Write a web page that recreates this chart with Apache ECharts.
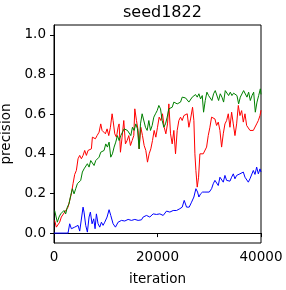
<!DOCTYPE html>
<html>
<head>
<meta charset="utf-8">
<script src="https://cdn.jsdelivr.net/npm/echarts@6/dist/echarts.min.js"></script>
<style>html,body{margin:0;padding:0;background:#fff}#c{width:286px;height:290px}</style>
</head>
<body>
<div id="c"></div>
<script>
var titleText = 'seed1822';
var xName = 'iteration';
var yName = 'precision';
var yTicks = [0, 0.2, 0.4, 0.6, 0.8, 1.0];
var xTicks = [0, 20000, 40000];

var blueX = [0,2710,3032,3355,3677,4000,4323,4645,4968,5290,5613,5806,6129,6452,6774,7032,7355,7677,7935,8194,8516,8839,9161,9484,9806,10258,10645,10968,11419,11871,12387,13032,13677,14323,14968,15613,16258,16903,17226,17871,18516,19161,19806,20452,21097,21742,22387,23032,23677,24323,24774,25161,25613,26129,26581,27032,27419,27742,28000,28323,28710,29161,29484,30000,30452,30774,31097,31419,31742,32065,32387,32710,33032,33355,33677,34000,34323,34645,34968,35290,35613,35935,36258,36581,36903,37226,37548,37871,38194,38516,38839,39161,39484,39806,40000];
var blueY = [0,0,0.047,0.022,0.017,0.030,0.027,0.039,0.010,0.0,0.131,0.106,0.039,0.005,0.081,0.106,0.047,0.072,0.022,0.097,0.047,0.030,0.055,0.039,0.055,0.081,0.118,0.089,0.047,0.030,0.055,0.064,0.061,0.069,0.064,0.069,0.064,0.067,0.081,0.089,0.081,0.097,0.094,0.097,0.089,0.111,0.106,0.114,0.114,0.123,0.131,0.165,0.131,0.131,0.156,0.182,0.224,0.207,0.182,0.198,0.207,0.207,0.212,0.207,0.224,0.249,0.266,0.269,0.240,0.282,0.282,0.257,0.291,0.266,0.257,0.262,0.282,0.299,0.274,0.291,0.282,0.299,0.296,0.308,0.282,0.274,0.257,0.274,0.282,0.316,0.296,0.333,0.299,0.324,0.308];

var redX = [129,452,774,1097,1419,1742,2065,2387,2710,3032,3355,3677,4000,4323,4645,4968,5290,5613,5935,6258,6581,6903,7226,7419,7677,8000,8323,8710,9032,9290,9613,9935,10258,10581,10903,11226,11419,11742,12065,12387,12581,12839,13161,13484,13806,14129,14452,14774,15097,15419,15613,15935,16258,16452,16774,17097,17419,17742,18065,18387,18710,19032,19355,19677,20000,20323,20645,20968,21290,21613,21935,22194,22516,22839,23161,23484,23806,24129,24452,24774,25097,25419,25742,26065,26387,26774,27032,27226,27419,27677,27935,28194,28516,28839,29161,29484,29806,30129,30452,30774,31097,31419,31742,32065,32387,32710,33032,33355,33677,34000,34323,34645,34968,35290,35613,35935,36258,36581,36903,37226,37548,37871,38194,38516,38839,39161,39484,39806,40000];
var redY = [0.064,0.030,0.039,0.055,0.081,0.089,0.106,0.114,0.131,0.165,0.198,0.249,0.296,0.316,0.375,0.392,0.375,0.392,0.417,0.392,0.417,0.408,0.425,0.484,0.492,0.476,0.492,0.509,0.551,0.518,0.526,0.501,0.526,0.492,0.534,0.602,0.568,0.501,0.484,0.534,0.551,0.408,0.484,0.568,0.450,0.467,0.492,0.442,0.467,0.492,0.627,0.568,0.518,0.425,0.534,0.492,0.442,0.417,0.358,0.400,0.425,0.467,0.518,0.484,0.534,0.585,0.568,0.602,0.534,0.501,0.551,0.652,0.501,0.450,0.518,0.400,0.518,0.568,0.585,0.568,0.593,0.585,0.602,0.534,0.576,0.635,0.568,0.400,0.316,0.232,0.282,0.400,0.392,0.400,0.400,0.434,0.492,0.534,0.585,0.593,0.576,0.543,0.560,0.518,0.434,0.501,0.551,0.568,0.602,0.534,0.610,0.551,0.492,0.551,0.644,0.593,0.618,0.560,0.602,0.543,0.551,0.518,0.509,0.518,0.518,0.551,0.568,0.593,0.620];

var greenX = [129,452,645,968,1290,1613,1935,2258,2581,2903,3226,3548,3871,4194,4516,4839,5161,5484,5806,6129,6452,6774,7097,7419,7742,8065,8387,8710,9032,9355,9677,10000,10323,10645,10968,11290,11613,11935,12258,12581,12903,13226,13548,13871,14194,14516,14839,15161,15484,15806,16129,16452,16710,17032,17355,17677,18000,18323,18645,18968,19290,19613,19935,20258,20581,20903,21226,21548,21871,22194,22516,22839,23161,23484,23806,24129,24452,24774,25097,25419,25742,26065,26387,26710,27032,27355,27677,28000,28323,28645,28903,29226,29548,29871,30194,30516,30839,31161,31484,31806,32129,32452,32774,33097,33419,33742,34065,34387,34710,35032,35355,35677,36000,36323,36645,36968,37290,37613,37935,38258,38581,38903,39226,39548,39871,40000];
var greenY = [0.114,0.123,0.055,0.081,0.097,0.089,0.114,0.097,0.131,0.148,0.190,0.224,0.198,0.224,0.249,0.257,0.266,0.308,0.324,0.333,0.350,0.333,0.366,0.358,0.341,0.366,0.375,0.383,0.408,0.400,0.417,0.450,0.434,0.459,0.383,0.400,0.434,0.459,0.492,0.467,0.492,0.501,0.526,0.534,0.518,0.526,0.492,0.534,0.518,0.551,0.526,0.425,0.551,0.602,0.610,0.534,0.518,0.568,0.518,0.543,0.585,0.602,0.618,0.644,0.627,0.568,0.534,0.551,0.585,0.627,0.618,0.635,0.661,0.669,0.652,0.661,0.661,0.686,0.686,0.682,0.686,0.661,0.652,0.686,0.694,0.699,0.686,0.703,0.677,0.694,0.610,0.669,0.711,0.694,0.703,0.669,0.703,0.719,0.711,0.669,0.703,0.686,0.661,0.719,0.711,0.694,0.711,0.694,0.706,0.703,0.694,0.652,0.686,0.694,0.719,0.728,0.686,0.711,0.669,0.694,0.711,0.610,0.661,0.694,0.728,0.700];

function zip(xs, ys) { return xs.map(function (x, i) { return [x, ys[i]]; }); }

var font = 'DejaVu Sans';
var chart = echarts.init(document.getElementById('c'), null, {renderer: 'canvas'});
function lineSeries(name, data, color) {
  return {name: name, type: 'line', data: data, showSymbol: false, symbol: 'none',
    lineStyle: {color: color, width: 1}, itemStyle: {color: color}, animation: false};
}
chart.setOption({
  animation: false,
  backgroundColor: '#fff',
  title: {text: titleText, left: 118, top: 0,
    textStyle: {fontFamily: font, fontSize: 16, fontWeight: 'normal', color: '#000'}},
  grid: {left: 54, right: 25, top: 25, bottom: 47, outerBoundsMode: 'none', containLabel: false,
    show: true, borderColor: '#000', borderWidth: 1, backgroundColor: 'transparent'},
  xAxis: {
    type: 'value', min: 0, max: 40000, interval: 20000,
    name: xName, nameLocation: 'middle', nameGap: 29,
    nameTextStyle: {fontFamily: font, fontSize: 13.5, color: '#000'},
    axisLine: {show: true, lineStyle: {color: '#000', width: 1}},
    axisTick: {show: true, inside: false, length: 4, lineStyle: {color: '#000'}, customValues: xTicks},
    axisLabel: {fontFamily: font, fontSize: 13.5, color: '#000', margin: 7, customValues: xTicks,
      hideOverlap: false, formatter: function (v) { return String(v); }},
    splitLine: {show: false}
  },
  yAxis: {
    type: 'value', min: -0.05, max: 1.05,
    name: yName, nameLocation: 'middle', nameGap: 33,
    nameTextStyle: {fontFamily: font, fontSize: 13.5, color: '#000'},
    axisLine: {show: true, lineStyle: {color: '#000', width: 1}},
    axisTick: {show: true, inside: false, length: 4, lineStyle: {color: '#000'}, customValues: yTicks},
    axisLabel: {fontFamily: font, fontSize: 13.5, color: '#000', margin: 8, customValues: yTicks,
      formatter: function (v) { return v.toFixed(1); }},
    splitLine: {show: false}
  },
  series: [
    lineSeries('red', zip(redX, redY), '#ff0000'),
    lineSeries('green', zip(greenX, greenY), '#008000'),
    lineSeries('blue', zip(blueX, blueY), '#0000ff')
  ]
});
</script>
</body>
</html>
